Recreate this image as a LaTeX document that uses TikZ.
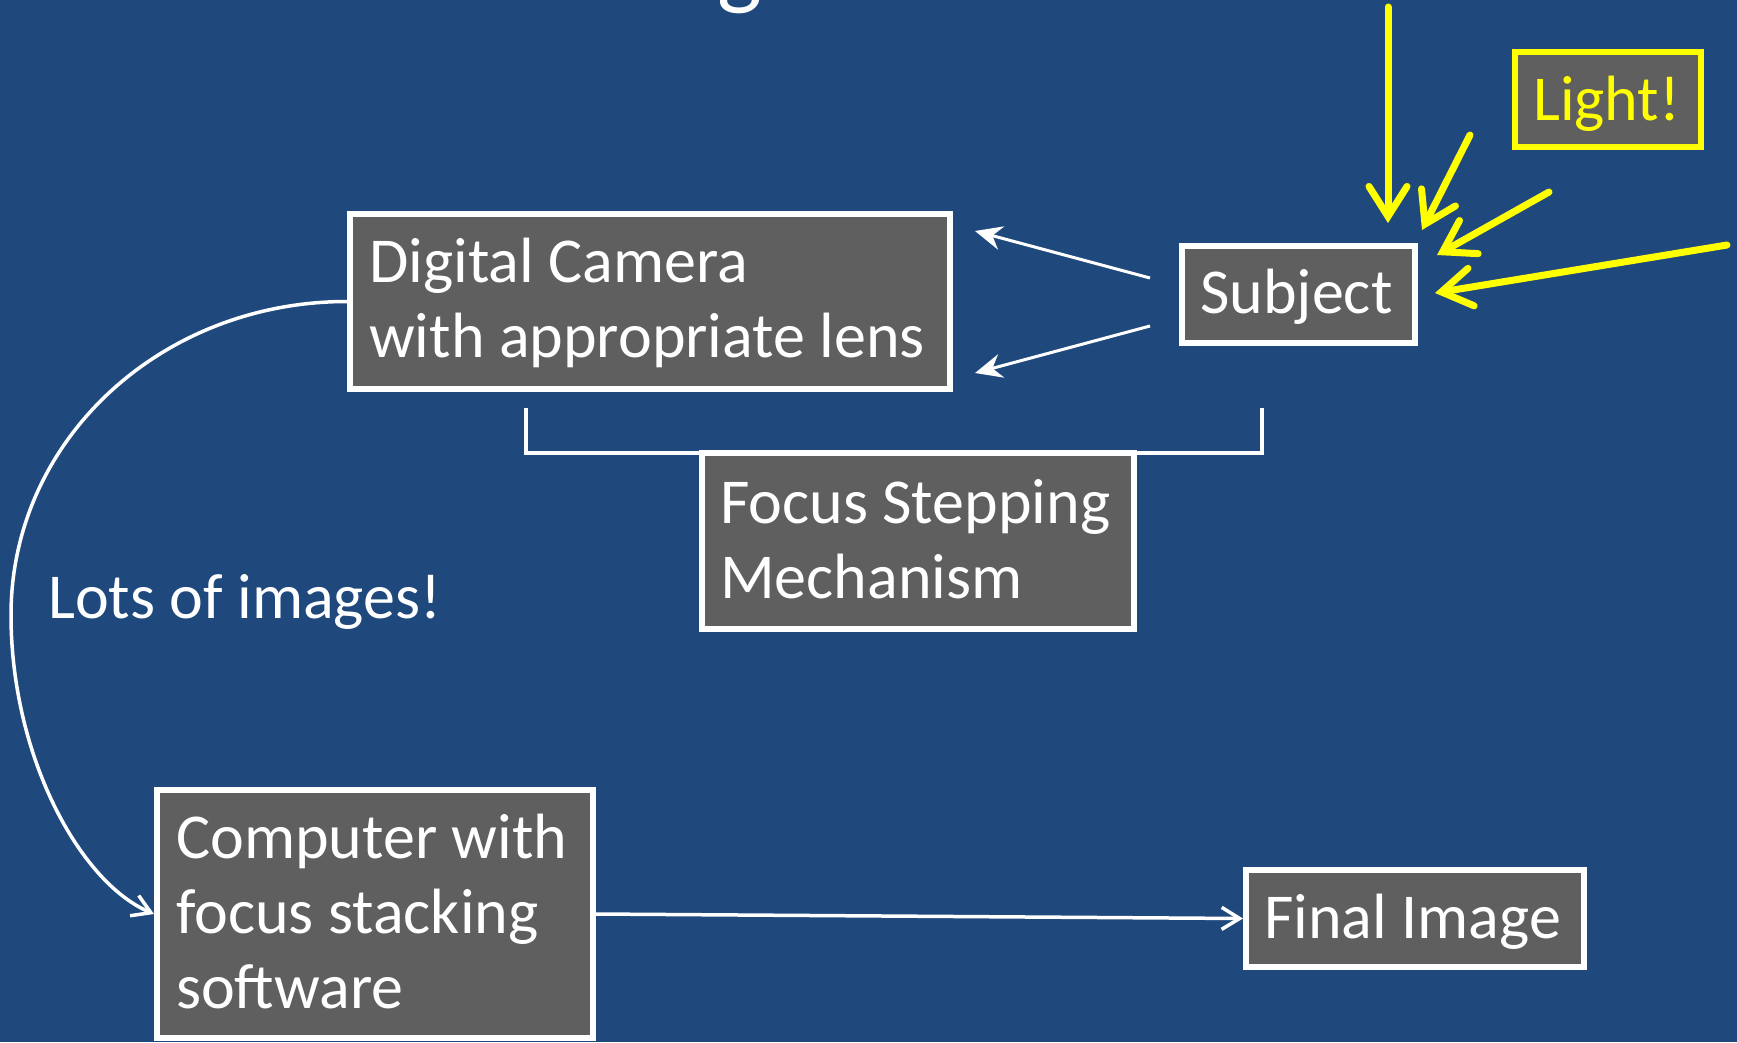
\documentclass[tikz,border=0pt]{standalone}
\usepackage{fontspec}
\setmainfont{Carlito}
\usetikzlibrary{arrows.meta}
\definecolor{bgblue}{RGB}{31,73,125}
\definecolor{boxgray}{RGB}{95,95,95}
\definecolor{lightyel}{RGB}{255,255,0}
\newcommand\lnstrut{\rule{0pt}{55pt}}
\begin{document}
\begin{tikzpicture}[x=1pt,y=-1pt,
 box/.style={draw=white, line width=6pt, fill=boxgray, inner sep=0pt, anchor=north west},
 lbl/.style={text=white, font=\fontsize{64}{75}\selectfont, align=left, inner sep=0pt},
 ray/.style={draw=lightyel, line width=7pt, line cap=round, -{Straight Barb[length=30pt,width=38pt,line cap=round]}},
 refl/.style={draw=white, line width=3pt, -{Stealth[length=27pt,width=24pt,inset=9pt]}},
 flow/.style={draw=white, line width=3.5pt, -{Straight Barb[length=18pt,width=22pt]}}
]
\fill[bgblue] (0,0) rectangle (1737,1042);
\useasboundingbox (0,0) rectangle (1737,1042);
\clip (0,0) rectangle (1737,1042);

% partial title glyph
\node[text=white, font=\fontsize{95}{100}\selectfont, anchor=base, inner sep=0pt] (titleg) at (740,-3) {g};

% bracket
\coordinate (brA) at (526,408);
\coordinate (brB) at (1262,408);
\draw[white, line width=3.5pt] (brA) -- ++(0,45) -| (brB);

% boxes
\node[box, minimum width=600pt, minimum height=175pt] (cam) at (347,211) {};
\node[box, minimum width=233pt, minimum height=97pt] (subj) at (1179,243) {};
\node[box, minimum width=432pt, minimum height=176pt] (focus) at (699,450) {};
\node[box, minimum width=436pt, minimum height=248pt] (comp) at (154,787) {};
\node[box, minimum width=338pt, minimum height=97pt] (fin) at (1243,867) {};
\node[box, draw=lightyel, minimum width=186pt, minimum height=95pt] (light) at (1512,49) {};

% texts
\node[lbl, anchor=north west] (camtxt) at (369,227) {\lnstrut Digital Camera\\\lnstrut with appropriate lens};
\node[lbl, anchor=base west] (subjtxt) at (1200,313) {Subject};
\node[lbl, anchor=north west] (focustxt) at (720,468) {\lnstrut Focus Stepping\\\lnstrut Mechanism};
\node[lbl, anchor=north west] (comptxt) at (176,803) {\lnstrut Computer with\\\lnstrut focus stacking\\\lnstrut software};
\node[lbl, anchor=base west] (fintxt) at (1264,938) {Final Image};
\node[lbl, anchor=base west, text=lightyel] (lighttxt) at (1533,120) {Light!};
\node[lbl, anchor=base west] (lots) at (48,618) {Lots of images!};

% reflected light
\coordinate (s1) at (1150,278);
\coordinate (c1) at (975,231);
\coordinate (s2) at (1150,326);
\coordinate (c2) at (975,373);
\draw[refl] (s1) -- (c1);
\draw[refl] (s2) -- (c2);

% flow arrows
\coordinate (curveMid) at (11,615);
\draw[flow] (cam.west) .. controls +(-186,0) and +(0,-175) .. (curveMid)
  .. controls +(0,140) and +(-75,-32) .. (comp.west);
\draw[flow] (comp.east) -- (fin.west);

% light rays
\coordinate (L1a) at (1388,7);   \coordinate (L1b) at (1388,223);
\coordinate (L2a) at (1470,135); \coordinate (L2b) at (1422,230);
\coordinate (L3a) at (1549,192); \coordinate (L3b) at (1437,255);
\coordinate (L4a) at (1727,245); \coordinate (L4b) at (1435,293);
\draw[ray] (L1a) -- (L1b);
\draw[ray] (L2a) -- (L2b);
\draw[ray] (L3a) -- (L3b);
\draw[ray] (L4a) -- (L4b);
\end{tikzpicture}
\end{document}
